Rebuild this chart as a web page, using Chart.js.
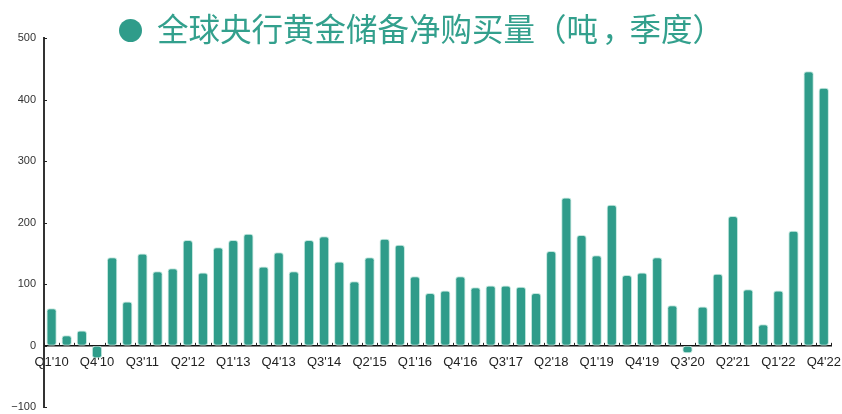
<!DOCTYPE html>
<html><head><meta charset="utf-8">
<script src="https://cdn.jsdelivr.net/npm/chart.js@4"></script>
<style>
html,body{margin:0;padding:0;background:#fff;}
#wrap{position:relative;width:842px;height:414px;}
#title{position:absolute;left:119px;top:6px;height:42px;line-height:42px;font-family:"Noto Sans CJK SC",sans-serif;font-size:31.5px;color:#33A08D;white-space:nowrap;z-index:2;}
#title .dot{display:inline-block;width:23px;height:23px;border-radius:50%;background:#2F9C8A;margin-right:15px;vertical-align:-1px;}
#title .p{display:inline-block;width:1em;text-align:center;}
#title .c{display:inline-block;width:1em;text-align:left;padding-left:4px;box-sizing:border-box;}
canvas{position:absolute;left:0;top:0;}
</style></head>
<body><div id="wrap"><div id="title"><span class="dot"></span>全球央行黄金储备净购买量<span class="p">（</span>吨<span class="c">，</span>季度<span class="p">）</span></div><canvas id="c" width="842" height="414"></canvas></div>
<script>
const years = ['10','11','12','13','14','15','16','17','18','19','20','21','22'];
const quarters = ['Q1','Q2','Q3','Q4'];
const categories = [];
years.forEach(y => quarters.forEach(q => categories.push(q + "'" + y)));
const netPurchases = [61,17,25,-20,144,72,150,121,126,172,119,160,172,182,129,152,121,172,178,137,105,144,174,164,113,86,90,113,95,98,98,96,86,154,241,180,147,229,115,119,144,66,-12,64,117,211,92,35,90,187,446,419];
const yTicks = [-100,0,100,200,300,400,500];
const labelEvery = 3;

const tickPlugin = {
  id: 'smallTicks',
  afterDraw(chart) {
    const ctx = chart.ctx, x = chart.scales.x, y = chart.scales.y;
    const y0 = y.getPixelForValue(0);
    ctx.save();
    ctx.strokeStyle = '#222'; ctx.lineWidth = 1;
    ctx.beginPath();
    for (let i = 0; i <= categories.length; i++) {
      const px = Math.round(x.getPixelForValue(i - 0.5)) + 0.5;
      ctx.moveTo(px, y0); ctx.lineTo(px, y0 - 3);
    }
    yTicks.forEach(v => {
      const py = Math.round(y.getPixelForValue(v)) + 0.5;
      ctx.moveTo(x.left, py); ctx.lineTo(x.left + 3, py);
    });
    ctx.stroke();
    ctx.restore();
  }
};

new Chart(document.getElementById('c'), {
  type: 'bar',
  data: { labels: categories, datasets: [{ data: netPurchases, backgroundColor: '#2F9C8A', borderColor: 'rgba(190,230,220,0.9)', borderWidth: 1, borderSkipped: false, borderRadius: 3, barPercentage: 0.68, categoryPercentage: 1 }] },
  options: {
    responsive: false, animation: false,
    layout: { padding: { top: 38, right: 9, left: 0, bottom: 2 } },
    plugins: { legend: { display: false }, tooltip: { enabled: false } },
    scales: {
      x: {
        position: { y: 0 }, offset: true,
        afterFit: s => { s.height = 0; },
        grid: { display: false },
        border: { display: true, color: '#111', width: 1.5 },
        ticks: { autoSkip: false, maxRotation: 0, padding: 1, color: '#222', font: { family: 'Liberation Sans, Arial', size: 13 },
          callback: (v, i) => i % labelEvery === 0 ? categories[i] : '' }
      },
      y: {
        min: -100, max: 500,
        afterBuildTicks: s => { s.ticks = yTicks.map(v => ({ value: v })); },
        afterFit: s => { s.width = 44; },
        grid: { display: false, drawTicks: true, tickLength: 8 },
        border: { display: true, color: '#333', width: 2 },
        ticks: { padding: 0, color: '#333', font: { family: 'Liberation Sans, Arial', size: 11 },
          callback: v => String(v).replace('-', '\u2212') }
      }
    }
  },
  plugins: [tickPlugin]
});
</script></body></html>
